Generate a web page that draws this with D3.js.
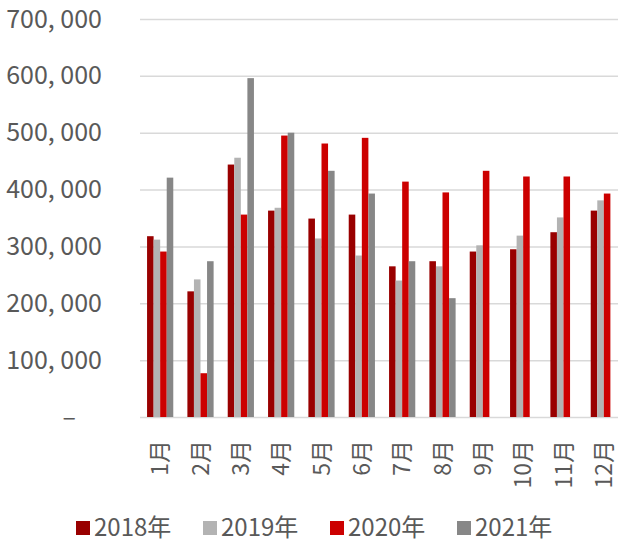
<!DOCTYPE html>
<html>
<head>
<meta charset="utf-8">
<script src="https://cdn.jsdelivr.net/npm/d3@7"></script>
<style>
  html, body { margin: 0; padding: 0; background: #fff; }
  svg { display: block; font-family: "Noto Sans CJK SC", "Noto Sans", sans-serif; }
</style>
</head>
<body>
<div id="chart"></div>
<script>
// 月份
const months = ['1月', '2月', '3月', '4月', '5月', '6月', '7月', '8月', '9月', '10月', '11月', '12月'];
// 系列名
const years = ['2018年', '2019年', '2020年', '2021年'];
const yearColors = ['#990000', '#b3b3b3', '#cc0000', '#878787'];
// 各年数据（2021年只到8月）
const v2018 = [318000, 221000, 444000, 363000, 349000, 356000, 265000, 274000, 291000, 295000, 325000, 363000];
const v2019 = [312000, 242000, 456000, 368000, 314000, 284000, 240000, 265000, 302000, 319000, 351000, 381000];
const v2020 = [291000, 77000, 356000, 495000, 481000, 491000, 414000, 395000, 433000, 423000, 423000, 393000];
const v2021 = [421000, 274000, 596000, 500000, 433000, 393000, 274000, 209000, null, null, null, null];
const yTicks = [0, 100000, 200000, 300000, 400000, 500000, 600000, 700000];

const seriesValues = [v2018, v2019, v2020, v2021];

const width = 618;
const height = 544;
const margin = {left: 140, right: -6, top: 19, bottom: 127};

const svg = d3.select('#chart').append('svg')
    .attr('width', width)
    .attr('height', height);

const x = d3.scaleBand()
    .domain(months)
    .range([margin.left, width - margin.right])
    .paddingInner(0.35)
    .paddingOuter(0.175);

const x1 = d3.scaleBand()
    .domain(years)
    .range([0, x.bandwidth()]);

const y = d3.scaleLinear()
    .domain([0, 700000])
    .range([height - margin.bottom, margin.top]);

// 网格线 + y轴标签
const fmt = d3.format(',');
const yAxis = svg.append('g')
    .attr('transform', `translate(${margin.left},0)`)
    .call(d3.axisLeft(y)
      .tickValues(yTicks)
      .tickSizeInner(-(width - margin.left))
      .tickSizeOuter(0)
      .tickPadding(38)
      .tickFormat(d => d === 0 ? '–' : fmt(d).replace(/,/g, ', ')));

yAxis.select('.domain').remove();
yAxis.selectAll('.tick line')
    .attr('stroke', '#d9d9d9')
    .attr('stroke-width', 1.5);
yAxis.selectAll('.tick text')
    .attr('fill', '#595959')
    .attr('font-size', 25)
    .attr('font-family', '"Noto Sans CJK SC", sans-serif');
// 0 显示为短横
yAxis.selectAll('.tick')
    .filter(d => d === 0)
    .select('text')
    .attr('x', -64);

// 柱子
const groups = svg.append('g')
    .selectAll('g')
    .data(months)
    .join('g')
    .attr('transform', d => `translate(${x(d)},0)`);

groups.selectAll('rect')
    .data((m, i) => years.map((yr, k) => ({year: yr, k: k, value: seriesValues[k][i]})).filter(d => d.value != null))
    .join('rect')
    .attr('x', d => x1(d.year))
    .attr('width', x1.bandwidth())
    .attr('y', d => y(d.value))
    .attr('height', d => y(0) - y(d.value))
    .attr('fill', d => yearColors[d.k]);

// x轴标签（旋转）
svg.append('g')
    .selectAll('text')
    .data(months)
    .join('text')
    .attr('transform', d => `translate(${x(d) + x.bandwidth() / 2},440) rotate(-90)`)
    .attr('text-anchor', 'end')
    .attr('dy', '0.35em')
    .attr('font-size', 23)
    .attr('fill', '#595959')
    .text(d => d);

// 图例
const legend = svg.append('g')
    .selectAll('g')
    .data(years)
    .join('g')
    .attr('transform', (d, i) => `translate(${76 + i * 127},528)`);

legend.append('rect')
    .attr('x', 0)
    .attr('y', -7)
    .attr('width', 14)
    .attr('height', 14)
    .attr('fill', (d, i) => yearColors[i]);

legend.append('text')
    .attr('x', 18)
    .attr('dy', '0.35em')
    .attr('font-size', 24)
    .attr('fill', '#595959')
    .text(d => d);
</script>
</body>
</html>
